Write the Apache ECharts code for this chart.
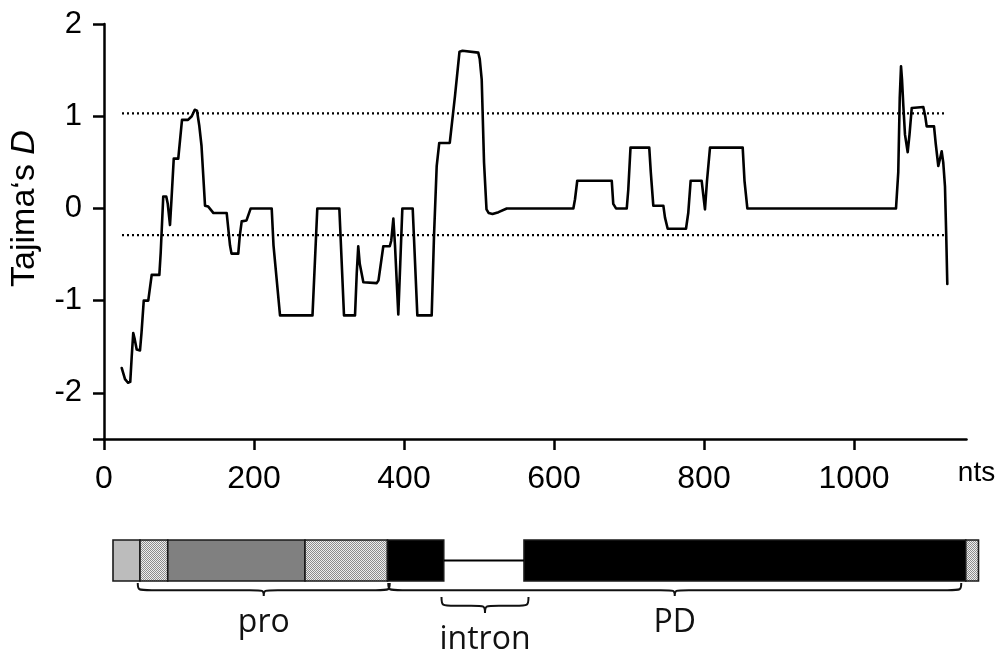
<!DOCTYPE html>
<html>
<head>
<meta charset="utf-8">
<script src="https://cdn.jsdelivr.net/npm/echarts@6/dist/echarts.min.js"></script>
<style>
html,body{margin:0;padding:0;background:#fff;}
#chart{width:999px;height:651px;}
</style>
</head>
<body>
<div id="chart"></div>
<script>
// Sliding-window Tajima's D along the gene, window midpoint in nts
const positions = [
  23.6, 28, 32, 35, 37, 39, 41, 43.6, 48, 50, 53, 59, 63.6, 73.8, 75.6, 79, 83, 85, 88, 90,
  93, 99, 104, 112, 117, 121, 124, 127, 130, 134.7, 139, 141, 146, 163.6, 168, 170, 179, 181, 183.6, 190,
  195.6, 223.6, 226, 234.7, 278, 284.4, 313.8, 320, 334.7, 337, 339, 341, 345.8, 363.6, 366, 372.4, 381, 383, 385.8, 388,
  392.4, 395, 397.8, 411.6, 417.8, 436.9, 440, 443.6, 447, 461, 468, 474, 478, 480, 499, 501, 503.6, 506.7, 510, 513,
  518, 526, 537, 625.8, 628, 631, 677, 679, 682.7, 697, 699, 702, 727, 729, 732.4, 745.8, 748, 751.6, 776, 779,
  782.2, 796.9, 799, 801.3, 804, 808, 851.6, 854, 857.8, 1056, 1059, 1061, 1062.7, 1064, 1065.8, 1068, 1071.6, 1074, 1077, 1092.4,
  1095, 1096.9, 1106.7, 1109, 1112.4, 1115, 1116.9, 1119, 1121.3, 1123, 1124.4
];
const tajimaD = [
  -1.73, -1.85, -1.89, -1.88, -1.6, -1.35, -1.42, -1.53, -1.54, -1.35, -1.0, -1.0, -0.72, -0.72, -0.48, 0.13, 0.13, 0.05, -0.18, 0.1,
  0.54, 0.54, 0.96, 0.96, 1.0, 1.07, 1.06, 0.9, 0.68, 0.03, 0.02, 0.01, -0.05, -0.05, -0.4, -0.49, -0.49, -0.3, -0.14, -0.13,
  0.0, 0.0, -0.4, -1.16, -1.16, 0.0, 0.0, -1.16, -1.16, -0.7, -0.41, -0.6, -0.8, -0.81, -0.78, -0.41, -0.41, -0.35, -0.11, -0.4,
  -1.15, -0.6, 0.0, 0.0, -1.16, -1.16, -0.3, 0.46, 0.71, 0.71, 1.22, 1.70, 1.71, 1.69, 1.69, 1.62, 1.40, 0.5, -0.01, -0.05,
  -0.06, -0.04, 0.0, 0.0, 0.1, 0.30, 0.30, 0.05, 0.0, 0.0, 0.2, 0.66, 0.66, 0.4, 0.03, 0.03, -0.1, -0.22, -0.22, -0.05,
  0.30, 0.30, 0.15, -0.01, 0.3, 0.66, 0.66, 0.3, 0.0, 0.0, 0.39, 1.2, 1.54, 1.4, 1.11, 0.8, 0.61, 0.8, 1.09, 1.10,
  1.0, 0.89, 0.89, 0.7, 0.46, 0.55, 0.62, 0.5, 0.24, -0.3, -0.82
];

// Significance limits for Tajima's D
const upperLimit = 1.03;
const lowerLimit = -0.29;
const limitSpan = [24, 1124];

// Axis ticks
const xTicks = [0, 200, 400, 600, 800, 1000];
const yTickLabels = [-2, -1, 0, 1, 2];
const yTickMarks = [-2.5, -2, -1, 0, 1, 2];

// Gene structure (nts): boxes, then the intron
const segStart = [12, 48, 85, 268, 378, 560, 1149];
const segEnd   = [48, 85, 268, 378, 453, 1149, 1166];
const segKind  = ['light', 'stipple', 'dark', 'stipple', 'exon', 'exon', 'stipple'];
const intron   = [453, 560];

// Annotated regions under the gene map
const regionNames = ['pro', 'intron', 'PD'];
const regionStart = [45, 450, 379];
const regionEnd   = [381, 566, 1143];

// fine checker used for the stippled boxes
function stipple() {
  const c = document.createElement('canvas');
  c.width = 2; c.height = 2;
  const g = c.getContext('2d');
  g.fillStyle = '#eeeeee'; g.fillRect(0, 0, 2, 2);
  g.fillStyle = '#8c8c8c'; g.fillRect(0, 0, 1, 1); g.fillRect(1, 1, 1, 1);
  return c;
}
const fills = {
  light: '#bcbcbc',
  dark: '#808080',
  exon: '#000000',
  stipple: { image: stipple(), repeat: 'repeat' }
};

const pairs = positions.map((x, i) => [x, tajimaD[i]]);

function renderSegment(params, api) {
  const tl = api.coord([api.value(0), 1]);
  const br = api.coord([api.value(1), 0]);
  return {
    type: 'rect',
    shape: { x: tl[0], y: tl[1], width: br[0] - tl[0], height: br[1] - tl[1] },
    style: { fill: fills[segKind[params.dataIndex]], stroke: '#1a1a1a', lineWidth: 1.6 }
  };
}

function renderBrace(params, api) {
  const i = params.dataIndex;
  const s = api.value(0), e = api.value(1);
  const nested = regionStart.some((o, j) => j !== i && regionStart[j] <= s && regionEnd[j] >= e);
  const a = api.coord([s, 0]);
  const x1 = a[0], x2 = api.coord([e, 0])[0];
  const y0 = a[1] + (nested ? 16 : 2);
  const h = nested ? 16 : 13;
  const xm = (x1 + x2) / 2;
  const ym = y0 + h * 0.55;
  const tip = y0 + h;
  const r = Math.min(14, (x2 - x1) / 5);
  const d = 'M' + x1 + ',' + y0 +
    ' C' + x1 + ',' + ym + ' ' + x1 + ',' + ym + ' ' + (x1 + r) + ',' + ym +
    ' L' + (xm - r) + ',' + ym +
    ' C' + xm + ',' + ym + ' ' + xm + ',' + ym + ' ' + xm + ',' + tip +
    ' C' + xm + ',' + ym + ' ' + xm + ',' + ym + ' ' + (xm + r) + ',' + ym +
    ' L' + (x2 - r) + ',' + ym +
    ' C' + x2 + ',' + ym + ' ' + x2 + ',' + ym + ' ' + x2 + ',' + y0;
  return {
    type: 'group',
    children: [
      { type: 'path', shape: { pathData: d }, style: { fill: 'none', stroke: '#111', lineWidth: 2 } },
      { type: 'text', style: { text: regionNames[i], x: xm, y: tip + 27, align: 'center', verticalAlign: 'middle',
        fontSize: 32, fontFamily: '"Open Sans"', fill: '#111' } }
    ]
  };
}

const chart = echarts.init(document.getElementById('chart'), null, { renderer: 'canvas' });
const axisCol = '#000';
const plain = v => String(v);
chart.setOption({
  animation: false,
  backgroundColor: '#fff',
  textStyle: { fontFamily: '"Liberation Sans", Arial, sans-serif', color: '#000' },
  grid: [
    { left: 104, top: 24, width: 862.5, height: 415, outerBoundsMode: 'none', containLabel: false },
    { left: 104, top: 540, width: 900, height: 41, outerBoundsMode: 'none', containLabel: false }
  ],
  xAxis: [
    {
      gridIndex: 0, type: 'value', min: 0, max: 1150,
      name: 'nts', nameLocation: 'end', nameGap: 10,
      nameTextStyle: { fontSize: 28, align: 'center', verticalAlign: 'top', padding: [20, 0, 0, 0], color: '#000' },
      axisLine: { show: true, onZero: false, lineStyle: { color: axisCol, width: 2.5 } },
      axisTick: { show: true, length: 11, customValues: xTicks, lineStyle: { color: axisCol, width: 2.5 } },
      axisLabel: { customValues: xTicks, formatter: plain, fontSize: 32, margin: 24, color: '#000' },
      splitLine: { show: false }
    },
    { gridIndex: 1, type: 'value', min: 0, max: 1200, show: false }
  ],
  yAxis: [
    {
      gridIndex: 0, type: 'value', min: -2.5, max: 2,
      name: '{t|Tajima‘s }{d|D}', nameLocation: 'middle', nameRotate: 90, nameGap: 62,
      nameTextStyle: {
        padding: [0, 0, 0, 46],
        rich: {
          t: { fontSize: 34, color: '#000', fontFamily: '"Liberation Sans", Arial, sans-serif' },
          d: { fontSize: 34, color: '#000', fontStyle: 'italic', fontFamily: '"Liberation Sans", Arial, sans-serif' }
        }
      },
      axisLine: { show: true, onZero: false, lineStyle: { color: axisCol, width: 2.5 } },
      axisTick: { show: true, length: 11, customValues: yTickMarks, lineStyle: { color: axisCol, width: 2.5 } },
      axisLabel: { customValues: yTickLabels, formatter: plain, fontSize: 31, margin: 22, color: '#000' },
      splitLine: { show: false }
    },
    { gridIndex: 1, type: 'value', min: 0, max: 1, show: false }
  ],
  series: [
    {
      type: 'line', xAxisIndex: 0, yAxisIndex: 0, symbol: 'none',
      data: limitSpan.map(x => [x, upperLimit]),
      lineStyle: { color: '#000', width: 2.2, type: [2, 3] }
    },
    {
      type: 'line', xAxisIndex: 0, yAxisIndex: 0, symbol: 'none',
      data: limitSpan.map(x => [x, lowerLimit]),
      lineStyle: { color: '#000', width: 2.2, type: [2, 3] }
    },
    {
      type: 'line', xAxisIndex: 0, yAxisIndex: 0, symbol: 'none',
      data: pairs,
      lineStyle: { color: '#000', width: 2.6, join: 'round', cap: 'round' }
    },
    {
      type: 'line', xAxisIndex: 1, yAxisIndex: 1, symbol: 'none',
      data: intron.map(x => [x, 0.5]),
      lineStyle: { color: '#000', width: 2 }
    },
    {
      type: 'custom', xAxisIndex: 1, yAxisIndex: 1,
      renderItem: renderSegment,
      encode: { x: [0, 1] },
      data: segStart.map((s, i) => [s, segEnd[i]])
    },
    {
      type: 'custom', xAxisIndex: 1, yAxisIndex: 1,
      renderItem: renderBrace,
      encode: { x: [0, 1] },
      data: regionStart.map((s, i) => [s, regionEnd[i]])
    }
  ]
});
</script>
</body>
</html>
